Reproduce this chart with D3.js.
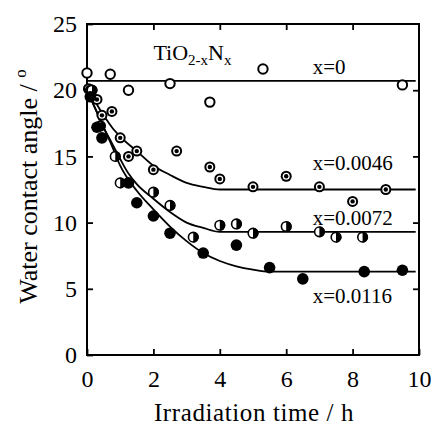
<!DOCTYPE html>
<html lang="en">
<head>
<meta charset="UTF-8">
<title>Water contact angle vs irradiation time</title>
<script src="https://cdnjs.cloudflare.com/ajax/libs/d3/7.8.5/d3.min.js"></script>
<style>
    body { margin: 0; background: #fff; }
    svg { display: block; }
    .frame { fill: none; stroke: #000; stroke-width: 2; }
    .fit { fill: none; stroke: #000; stroke-width: 1.8; }
</style>
</head>
<body>
<div id="chart"></div>
<script>
// tick values
const xTicks = [0, 2, 4, 6, 8, 10];
const yTicks = [0, 5, 10, 15, 20, 25];

// x = 0 (open circles)
const t0 = [0.05, 0.7, 1.25, 2.5, 3.7, 5.3, 9.5, 0.0];
const y0 = [20.1, 21.2, 20.0, 20.5, 19.1, 21.6, 20.4, 21.3];

// x = 0.0046 (concentric)
const t1 = [0.1, 0.3, 0.45, 0.75, 1.0, 1.25, 1.5, 2.0, 2.7, 3.7, 4.0, 5.0, 6.0, 7.0, 8.0, 9.0];
const y1 = [20.0, 19.3, 18.1, 18.4, 16.4, 15.0, 15.4, 14.0, 15.4, 14.2, 13.3, 12.7, 13.5, 12.7, 11.6, 12.5];

// x = 0.0072 (half filled)
const t2 = [0.15, 0.4, 0.85, 1.0, 2.0, 2.5, 3.2, 4.0, 4.5, 5.0, 6.0, 7.0, 7.5, 8.3];
const y2 = [20.0, 17.3, 15.0, 13.0, 12.3, 11.3, 8.9, 9.8, 9.9, 9.2, 9.7, 9.3, 8.9, 8.9];

// x = 0.0116 (filled)
const t3 = [0.1, 0.3, 0.45, 1.25, 1.5, 2.0, 2.5, 3.5, 4.5, 5.5, 6.5, 8.35, 9.5];
const y3 = [19.5, 17.2, 16.4, 13.0, 11.5, 10.5, 9.2, 7.7, 8.3, 6.6, 5.75, 6.3, 6.4];

// fitted curves
const fit0T = [0, 9.9];
const fit0Y = [20.7, 20.7];
const fit1T = [0, 0.25, 0.5, 0.75, 1.0, 1.5, 2.0, 2.5, 3.0, 3.5, 4.0, 9.9];
const fit1Y = [20.0, 19.1, 18.1, 17.2, 16.5, 15.4, 14.3, 13.6, 13.0, 12.7, 12.5, 12.5];
const fit2T = [0, 0.25, 0.5, 0.75, 1.0, 1.25, 1.5, 2.0, 2.5, 3.0, 3.5, 4.0, 9.9];
const fit2Y = [20.0, 18.6, 17.2, 16.0, 14.8, 13.7, 12.9, 11.8, 10.8, 10.0, 9.6, 9.3, 9.3];
const fit3T = [0, 0.25, 0.5, 0.75, 1.0, 1.5, 2.0, 2.5, 3.0, 3.5, 4.0, 4.5, 5.0, 5.5, 9.9];
const fit3Y = [20.0, 18.6, 17.2, 15.8, 14.3, 12.4, 11.0, 9.7, 8.6, 7.7, 7.1, 6.7, 6.45, 6.3, 6.3];

const seriesLabels = ["x=0", "x=0.0046", "x=0.0072", "x=0.0116"];
const labelPos = [[6.8, 21.2], [6.8, 14.0], [6.8, 9.8], [6.8, 3.9]];

const serif = "Liberation Serif";
const width = 436, height = 427;
const margin = { top: 24, right: 17, bottom: 72, left: 87 };
const innerW = width - margin.left - margin.right;
const innerH = height - margin.top - margin.bottom;

const svg = d3.select("#chart").append("svg")
    .attr("width", width)
    .attr("height", height)
    .attr("font-family", serif);

const g = svg.append("g")
    .attr("transform", `translate(${margin.left},${margin.top})`);

const x = d3.scaleLinear().domain([0, 10]).range([0, innerW]);
const y = d3.scaleLinear().domain([0, 25]).range([innerH, 0]);

// axes with inward ticks on all four sides
const tickLen = 6;
function styleAxis(a) {
    a.attr("font-family", serif);
    a.select(".domain").remove();
    a.selectAll("line").attr("stroke-width", 1.8);
    a.selectAll("text").attr("font-size", 24).attr("font-family", serif).attr("fill", "#000");
}
g.append("g")
    .attr("transform", `translate(0,${innerH})`)
    .call(d3.axisBottom(x).tickValues(xTicks).tickSize(-tickLen).tickPadding(15).tickFormat(d3.format("d")))
    .call(styleAxis);
g.append("g")
    .call(d3.axisTop(x).tickValues(xTicks.slice(1, -1)).tickSize(-tickLen).tickFormat(""))
    .call(styleAxis);
g.append("g")
    .call(d3.axisLeft(y).tickValues(yTicks).tickSize(-tickLen).tickPadding(10).tickFormat(d3.format("d")))
    .call(styleAxis);
g.append("g")
    .attr("transform", `translate(${innerW},0)`)
    .call(d3.axisRight(y).tickValues(yTicks.slice(1, -1)).tickSize(-tickLen).tickFormat(""))
    .call(styleAxis);

g.append("rect")
    .attr("class", "frame")
    .attr("width", innerW)
    .attr("height", innerH);

// fitted lines
const line = d3.line()
    .x(d => x(d[0]))
    .y(d => y(d[1]))
    .curve(d3.curveMonotoneX);
[[fit0T, fit0Y], [fit1T, fit1Y], [fit2T, fit2Y], [fit3T, fit3Y]].forEach(([ts, ys]) => {
    g.append("path")
        .attr("class", "fit")
        .attr("d", line(ts.map((t, i) => [t, ys[i]])));
});

const r = 5.5;
const zip = (ts, ys) => ts.map((t, i) => ({ t, v: ys[i] }));

// open circles
g.append("g").selectAll("circle")
    .data(zip(t0, y0))
    .join("circle")
    .attr("cx", d => x(d.t))
    .attr("cy", d => y(d.v))
    .attr("r", r - 0.8)
    .attr("fill", "#fff")
    .attr("stroke", "#000")
    .attr("stroke-width", 2);

// concentric circles
const conc = g.append("g").selectAll("g")
    .data(zip(t1, y1))
    .join("g")
    .attr("transform", d => `translate(${x(d.t)},${y(d.v)})`);
conc.append("circle").attr("r", r).attr("fill", "#000");
conc.append("circle").attr("r", r - 2).attr("fill", "#fff");
conc.append("circle").attr("r", r - 3.3).attr("fill", "#000");

// half filled circles
const halfArc = d3.arc().innerRadius(0).outerRadius(r).startAngle(0).endAngle(Math.PI);
const half = g.append("g").selectAll("g")
    .data(zip(t2, y2))
    .join("g")
    .attr("transform", d => `translate(${x(d.t)},${y(d.v)})`);
half.append("circle").attr("r", r - 0.7).attr("fill", "#fff").attr("stroke", "#000").attr("stroke-width", 1.6);
half.append("path").attr("d", halfArc()).attr("fill", "#000");

// filled circles
g.append("g").selectAll("circle")
    .data(zip(t3, y3))
    .join("circle")
    .attr("cx", d => x(d.t))
    .attr("cy", d => y(d.v))
    .attr("r", r + 0.3)
    .attr("fill", "#000");

// series labels
g.append("g").selectAll("text")
    .data(seriesLabels)
    .join("text")
    .attr("x", (d, i) => x(labelPos[i][0]))
    .attr("y", (d, i) => y(labelPos[i][1]))
    .attr("font-size", 21)
    .text(d => d);

// compound label
const comp = g.append("text")
    .attr("x", x(2.0))
    .attr("y", y(22.3))
    .attr("font-size", 22);
comp.append("tspan").text("TiO");
comp.append("tspan").attr("font-size", 15).attr("dy", 5).text("2-x");
comp.append("tspan").attr("dy", -5).text("N");
comp.append("tspan").attr("font-size", 15).attr("dy", 5).text("x");

// axis titles
svg.append("text")
    .attr("x", margin.left + innerW / 2 + 1)
    .attr("y", height - 6)
    .attr("text-anchor", "middle")
    .attr("font-size", 25)
    .attr("letter-spacing", 0.6)
    .text("Irradiation time / h");

const yt = svg.append("text")
    .attr("transform", `translate(37,${margin.top + innerH / 2 - 3}) rotate(-90)`)
    .attr("text-anchor", "middle")
    .attr("font-size", 26);
yt.append("tspan").text("Water contact angle / ");
yt.append("tspan").attr("font-size", 17).attr("dy", -11).text("o");
</script>
</body>
</html>
